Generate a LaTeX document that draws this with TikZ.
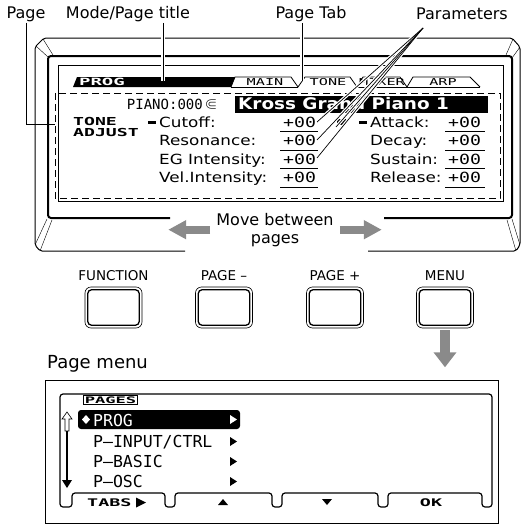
\documentclass[tikz,border=0pt]{standalone}
\usepackage{amssymb}
\usepackage{graphicx}
\usepackage{fontspec}
\setmainfont{DejaVu Sans}
\newfontfamily\lcdmono{DejaVu Sans Mono}
\usepackage{xcolor}
\usepackage{tikz}
\usetikzlibrary{arrows.meta}
\usetikzlibrary{shapes.geometric}

\definecolor{arrowgray}{HTML}{8A8A8A}
\newcommand{\wide}[2]{\scalebox{#1}[1]{#2}}

\begin{document}
\begin{tikzpicture}[x=1pt, y=-1pt,
        leader/.style={line width=0.7pt},
        halo/.style={draw=white, line width=3.2pt},
        callout/.style={font=\fontsize{16}{18}\selectfont, inner sep=1pt},
        lcdtxt/.style={anchor=base west, inner sep=0pt, font=\fontsize{14}{14}\selectfont},
        lcdnum/.style={anchor=base west, inner sep=0pt, font=\lcdmono\fontsize{14}{14}\selectfont},
        tablbl/.style={inner sep=0pt, font=\lcdmono\fontsize{9.5}{9.5}\selectfont},
        btn/.style={draw, line width=0.6pt, rounded corners=6pt, minimum width=57pt, minimum height=41pt, inner sep=0pt},
        btnlbl/.style={anchor=base, inner sep=0pt, font=\fontsize{13.5}{14}\selectfont},
        menuitem/.style={anchor=base west, inner sep=0pt, font=\lcdmono\fontsize{16.5}{16.5}\selectfont},
        grayarrow/.style={draw=arrowgray, line width=#1}]
        \useasboundingbox (0,0) rectangle (522,525);

        \draw[line width=1pt, rounded corners=2pt] (185,251) -- (40,251) -- (35,245) -- (35,47)
            -- (44,38) -- (512,38) -- (520,47) -- (520,245) -- (516,251) -- (368,251);
        \draw[line width=2pt, rounded corners=3pt] (170,218) -- (48,218) -- (48,56)
            -- (512,56) -- (512,218) -- (384,218);
        \draw (36,46) -- (48,57);
        \draw (43,39) -- (53,55);
        \draw (513,39) -- (506,55);
        \draw (520,47) -- (512,58);
        \draw (35,245) -- (47,219);
        \draw (40,251) -- (52,220);
        \draw (520,245) -- (512,219);
        \draw (516,251) -- (507,220);

        \draw[line width=0.6pt] (58,65) rectangle (503,201);
        \draw[line width=0.9pt, dash pattern=on 7pt off 4pt] (55,93) rectangle (500,198);

        \fill (73,87) -- (77,77) -- (235,77) -- (231,87) -- cycle;
        \node[tablbl, text=white, font=\lcdmono\bfseries\fontsize{10}{10}\selectfont] (progtab) at (102,82) {\wide{1.9}{PROG}};
        \draw[line width=0.8pt] (231,87) -- (235,77) -- (291,77) -- (298,87) -- (305,77)
            -- (350,77) -- (357,87) -- (363,77) -- (400,77) -- (407,87) -- (413,77)
            -- (470,77) -- (480,87);
        \draw[line width=0.8pt] (231,87) -- (298,87);
        \draw[line width=0.8pt] (357,87) -- (480,87);
        \foreach \lbl/\x in {MAIN/265, TONE/328, MIXER/382, ARP/443}
            \node[tablbl] (tab\lbl) at (\x,82.5) {\wide{1.6}{\lbl}};

        \node[lcdnum, anchor=base east] (bank) at (203,109) {PIANO:000};
        \node[inner sep=0pt] (bankicon) at (211,104.5) {\scalebox{1.6}{$\Subset$}};
        \fill (235,96) rectangle (488,113);
        \node[anchor=base west, inner sep=0pt, text=white, font=\bfseries\fontsize{16}{16}\selectfont]
            (progname) at (238,109.5) {\wide{1.15}{Kross Grand Piano 1}};

        \node[anchor=base west, inner sep=0pt, font=\lcdmono\bfseries\fontsize{11}{11}\selectfont]
            (tone) at (73,125.5) {\wide{1.65}{TONE}};
        \node[anchor=base west, inner sep=0pt, font=\lcdmono\bfseries\fontsize{11}{11}\selectfont]
            (adjust) at (73,136.5) {\wide{1.65}{ADJUST}};
        \draw[line width=2.6pt] (148,122.5) -- (156,122.5);
        \draw[line width=2.6pt] (359,122.5) -- (367,122.5);
        \fill (337,119) rectangle (346,125);

        \foreach \lbl/\i in {Cutoff:/0, Resonance:/1, EG Intensity:/2, Vel.Intensity:/3} {
            \node[lcdtxt] (lp\i) at (159,127+18.5*\i) {\wide{1.2}{\lbl}};
            \node[lcdnum] (lv\i) at (283,127+18.5*\i) {\wide{1.3}{+00}};
            \draw[line width=0.8pt] (280,131.5+18.5*\i) -- (318,131.5+18.5*\i);
        }
        \foreach \lbl/\i in {Attack:/0, Decay:/1, Sustain:/2, Release:/3} {
            \node[lcdtxt] (rp\i) at (370,127+18.5*\i) {\wide{1.2}{\lbl}};
            \node[lcdnum] (rv\i) at (448,127+18.5*\i) {\wide{1.3}{+00}};
            \draw[line width=0.8pt] (445,131.5+18.5*\i) -- (485,131.5+18.5*\i);
        }

        \node[callout] (pagelbl) at (26,14) {Page};
        \node[callout] (modelbl) at (128,14) {Mode/Page title};
        \node[callout] (tablbl) at (311,14) {Page Tab};
        \node[callout] (parlbl) at (462,14) {Parameters};
        \coordinate (pagept) at (55,124);
        \coordinate (modept) at (163,81);
        \coordinate (tabpt) at (302,81);
        \coordinate (parapex) at (423,28);
        \coordinate (cutoffpt) at (317,122);
        \coordinate (iconpt) at (336,127);
        \coordinate (resopt) at (317,140);
        \coordinate (egpt) at (317,158);

        \draw[leader] (pagelbl) |- (pagept);
        \draw[halo] (modelbl.south -| modept) -- (modept);
        \draw[leader] (modelbl.south -| modept) -- (modept);
        \draw[halo] (tablbl.south -| tabpt) -- (tabpt);
        \draw[leader] (tablbl.south -| tabpt) -- (tabpt);
        \foreach \p in {cutoffpt, iconpt, resopt, egpt}
            \draw[halo] (parapex) -- (\p);
        \foreach \p in {cutoffpt, iconpt, resopt, egpt}
            \draw[leader] (parapex) -- (\p);

        \node[callout, align=center, inner sep=0pt] (movelbl) at (275,229.7) {Move between\\pages};
        \draw[grayarrow=8pt, -{Triangle[length=18pt, width=18pt]}] ([xshift=-6pt]movelbl.west) -- ++(-42,0);
        \draw[grayarrow=8pt, -{Triangle[length=18pt, width=18pt]}] ([xshift=6pt]movelbl.east) -- ++(42,0);

        \foreach \b/\x/\lbl in {fn/113.5/FUNCTION, pgdn/224/PAGE –, pgup/335/PAGE +, menu/445/MENU} {
            \node[btn] (\b) at (\x,307.5) {};
            \node[btnlbl] (\b lbl) at (\x,280) {\lbl};
            \draw[line width=1.3pt, rounded corners=4pt] ([shift={(3pt,3pt)}]\b.south west)
                rectangle ([shift={(-3pt,-3pt)}]\b.north east);
        }
        \draw[grayarrow=10pt, -{Triangle[length=15pt, width=22pt]}] ([yshift=-2pt]menu.south) -- ++(0,37);

        \node[anchor=base west, inner sep=0pt, font=\fontsize{18}{18}\selectfont] (menutitle) at (47,368) {Page menu};
        \draw[line width=1pt] (45,380) rectangle (498,523);
        \draw[line width=1.2pt, rounded corners=3pt] (72,493) -- (165,493) -- (165,507) -- (175,507)
            -- (175,493) -- (272,493) -- (272,507) -- (282,507) -- (282,493) -- (378,493)
            -- (378,507) -- (388,507) -- (388,493) -- (482,493) -- (482,507) -- (492,507)
            -- (492,394) -- (60,394) -- (60,507) -- (72,507) -- cycle;
        \node[draw, fill=white, line width=0.6pt, inner sep=1pt, font=\lcdmono\bfseries\fontsize{9}{9}\selectfont]
            (pageshdr) at (110.5,400) {\wide{1.9}{PAGES}};

        \draw[line width=0.6pt, fill=white] (67,412) -- (72,419) -- (69,419) -- (69,431)
            -- (65,431) -- (65,419) -- (62,419) -- cycle;
        \draw[line width=2.6pt] (67,431) -- (67,481);
        \fill (62,480) -- (72,480) -- (67,488) -- cycle;

        \fill[rounded corners=3pt] (78,410) rectangle (240,429);
        \fill[white] (86,415) -- (90,419.5) -- (86,424) -- (82,419.5) -- cycle;
        \node[menuitem, text=white] (mprog) at (93,426.5) {PROG};
        \node[menuitem] (minput) at (93,447.5) {P–INPUT/CTRL};
        \node[menuitem] (mbasic) at (93,467.5) {P–BASIC};
        \node[menuitem] (mosc) at (93,487.5) {P–OSC};
        \fill[white] (230,415) -- (237,419.5) -- (230,424) -- cycle;
        \foreach \y in {441.5, 461.5, 481.5}
            \fill (230,\y-4.5) -- (237,\y) -- (230,\y+4.5) -- cycle;

        \node[anchor=base west, inner sep=0pt, font=\lcdmono\bfseries\fontsize{10.5}{10.5}\selectfont]
            (tabskey) at (87,506) {\wide{1.75}{TABS}};
        \fill (136,497.5) -- (146,502.5) -- (136,507.5) -- cycle;
        \fill (218,505) -- (228,505) -- (223,499) -- cycle;
        \fill (322,499) -- (332,499) -- (327,505) -- cycle;
        \node[anchor=base, inner sep=0pt, font=\lcdmono\bfseries\fontsize{10.5}{10.5}\selectfont]
            (okkey) at (431,506) {\wide{1.75}{OK}};
    \end{tikzpicture}
\end{document}
